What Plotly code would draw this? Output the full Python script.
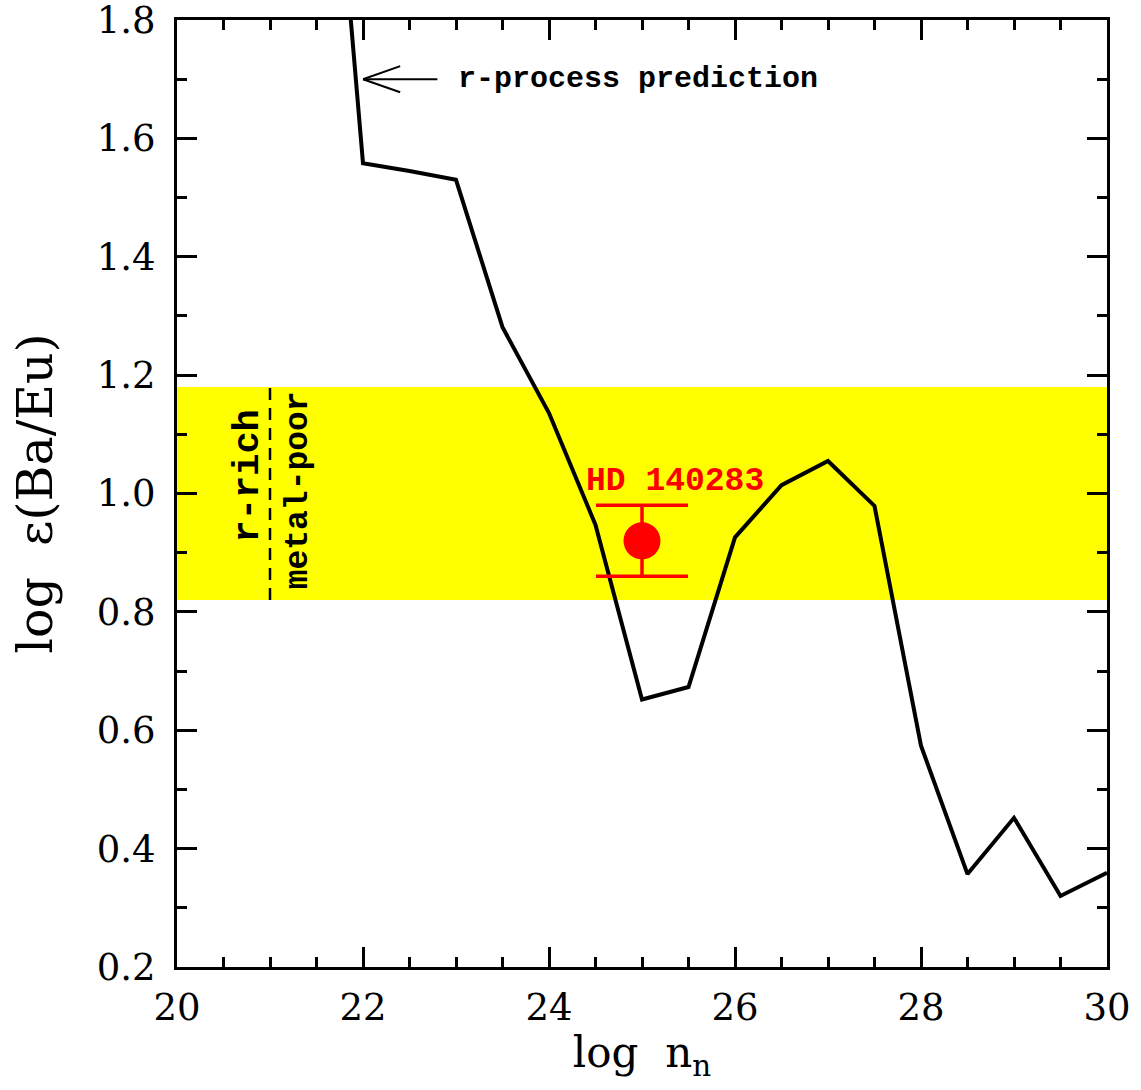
import plotly.graph_objects as go

# Model curve: r-process prediction
log_nn = [21.5, 22.0, 22.5, 23.0, 23.5, 24.0, 24.5, 25.0, 25.5, 26.0, 26.5, 27.0, 27.5, 28.0, 28.5, 29.0, 29.5, 30.0]
ba_eu = [2.48, 1.558, 1.545, 1.530, 1.281, 1.136, 0.947, 0.652, 0.673, 0.926, 1.014, 1.055, 0.979, 0.574, 0.357, 0.452, 0.320, 0.359]

# Star HD 140283
star_x = [25.0]
star_y = [0.92]
star_err = [0.06]
star_name = "HD 140283"

# r-rich metal-poor band
band_lo, band_hi = 0.82, 1.18
band_split_x = 21.0

x_range = [20, 30]
y_range = [0.2, 1.8]
x_ticks = [20, 22, 24, 26, 28, 30]
y_ticks = [0.2, 0.4, 0.6, 0.8, 1.0, 1.2, 1.4, 1.6, 1.8]
y_ticklabels = ["0.2", "0.4", "0.6", "0.8", "1.0", "1.2", "1.4", "1.6", "1.8"]

fig = go.Figure()

fig.add_shape(type="rect", xref="x", yref="y", x0=x_range[0], x1=x_range[1],
              y0=band_lo, y1=band_hi, fillcolor="#ffff00", line_width=0, layer="below")
fig.add_shape(type="line", xref="x", yref="y", x0=band_split_x, x1=band_split_x,
              y0=band_lo, y1=band_hi, line=dict(color="black", width=2.5, dash="12px,8px"))

fig.add_trace(go.Scatter(x=log_nn, y=ba_eu, mode="lines",
                         line=dict(color="black", width=4), cliponaxis=True,
                         showlegend=False))

fig.add_trace(go.Scatter(x=star_x, y=star_y, mode="markers",
                         marker=dict(color="#ff0000", size=37, symbol="circle"),
                         error_y=dict(type="data", array=star_err, color="#ff0000",
                                      thickness=3.5, width=46),
                         showlegend=False))

# Arrow for r-process prediction label
tip_x, tip_y = 22.0, 1.70
fig.add_shape(type="line", xref="x", yref="y", x0=tip_x, y0=tip_y, x1=22.8, y1=tip_y,
              line=dict(color="black", width=2))
fig.add_shape(type="line", xref="x", yref="y", x0=tip_x, y0=tip_y, x1=22.4, y1=tip_y + 0.022,
              line=dict(color="black", width=2))
fig.add_shape(type="line", xref="x", yref="y", x0=tip_x, y0=tip_y, x1=22.4, y1=tip_y - 0.022,
              line=dict(color="black", width=2))

mono = "Liberation Mono"
fig.add_annotation(x=23.0, y=1.70, text="<b>r-process prediction</b>", showarrow=False,
                   xanchor="left", yanchor="middle",
                   font=dict(family=mono, size=30, color="black"))
fig.add_annotation(x=25.36, y=1.02, text="<b>" + star_name + "</b>", showarrow=False,
                   xanchor="center", yanchor="middle",
                   font=dict(family=mono, size=33, color="#ff0000"))
fig.add_annotation(x=20.76, y=1.03, text="<b>r-rich</b>", showarrow=False, textangle=-90,
                   xanchor="center", yanchor="middle",
                   font=dict(family=mono, size=37, color="black"))
fig.add_annotation(x=21.31, y=1.005, text="<b>metal-poor</b>", showarrow=False, textangle=-90,
                   xanchor="center", yanchor="middle",
                   font=dict(family=mono, size=33, color="black"))

tickfont = dict(family="DejaVu Serif", size=37, color="black")

axis_common = dict(showgrid=False, zeroline=False, showline=True, linecolor="black",
                   linewidth=3, ticks="inside", ticklen=20, tickwidth=2.5,
                   tickcolor="black", mirror="allticks", tickfont=tickfont,
                   ticklabeloverflow="allow", automargin=False)

fig.update_xaxes(range=x_range, tickvals=x_ticks, ticklabelstandoff=6,
                 minor=dict(dtick=0.5, tick0=20, ticklen=10, tickwidth=2.5, tickcolor="black", ticks="inside"),
                 title=dict(text="log  n<sub>n</sub>",
                            font=dict(family="DejaVu Serif", size=42, color="black"), standoff=10),
                 **axis_common)
fig.update_yaxes(range=y_range, tickvals=y_ticks, ticktext=y_ticklabels, ticklabelstandoff=11,
                 minor=dict(dtick=0.1, tick0=0.2, ticklen=10, tickwidth=2.5, tickcolor="black", ticks="inside"),
                 title=dict(text="log  ε(Ba/Eu)",
                            font=dict(family="DejaVu Serif", size=49, color="black"), standoff=29),
                 **axis_common)

fig.update_layout(width=1141, height=1090,
                  margin=dict(l=177, r=34, t=20, b=123),
                  plot_bgcolor="white", paper_bgcolor="white")

# Remove the page's default body margin so the figure sits at the window's top-left corner.
fig.write_html("out.html", config={"displayModeBar": False},
               post_script="document.body.style.margin='0';document.body.style.overflow='hidden';")
